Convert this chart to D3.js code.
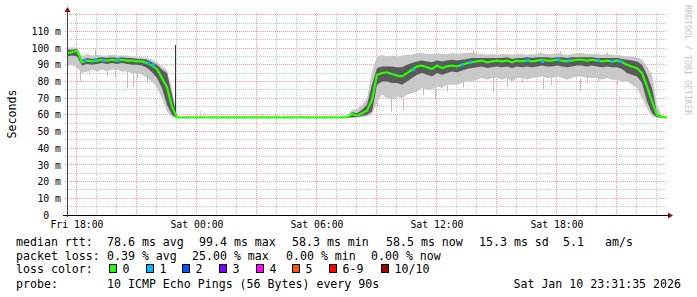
<!DOCTYPE html>
<html>
<head>
<meta charset="utf-8">
<script src="https://cdn.jsdelivr.net/npm/d3@7"></script>
<style>
  body { margin: 0; background: #fff; }
  svg { display: block; font-family: "DejaVu Sans Mono", monospace; }
  text { white-space: pre; }
</style>
</head>
<body>
<div id="chart"></div>
<script>
// one sample every 15 minutes, Fri 17:31:35 .. Sat 23:31:35
const startTime = new Date(2026, 0, 9, 17, 31, 35);
const endTime = new Date(2026, 0, 10, 23, 31, 35);
const stepMinutes = 15;

// median rtt (ms)
const median = [
  97, 97.5, 98.5, 91.5, 92.5, 92, 92.5, 93, 92.5, 93,
  92.5, 93, 92.5, 92.5, 92, 92, 91, 89.5, 87.5, 82,
  76.5, 65, 58.5, 58.4, 58.5, 58.4, 58.5, 58.5, 58.4, 58.5,
  58.4, 58.5, 58.5, 58.4, 58.5, 58.5, 58.4, 58.5, 58.4, 58.5,
  58.5, 58.4, 58.5, 58.4, 58.5, 58.5, 58.4, 58.5, 58.5, 58.4,
  58.5, 58.4, 58.5, 58.5, 58.4, 58.5, 58.6, 60.5, 59.5, 61,
  62.5, 69, 84, 85, 85.5, 84.5, 83.5, 83, 85, 87,
  89, 89.5, 88.5, 87.5, 89.5, 88, 89, 89.5, 89, 90,
  91, 91.5, 92, 92.5, 91.5, 92, 92.5, 92, 92.5, 91.5,
  92.5, 92, 92.5, 92, 92.5, 93, 92.5, 92.5, 93, 92.5,
  92, 92.5, 93, 93, 92.5, 93, 92.5, 92, 92.5, 92,
  92.5, 91.5, 90, 89, 88, 85, 77, 68, 60, 58.6,
  58.5
];

// lowest ping per sample (ms)
const pingMin = [
  89, 90, 88, 85, 86, 87, 86, 87, 86, 87,
  87, 86, 86, 85, 85, 84, 82, 80, 76, 70,
  62, 58.5, 58.2, 58.2, 58.2, 58.2, 58.2, 58.2, 58.2, 58.2,
  58.2, 58.2, 58.2, 58.2, 58.2, 58.2, 58.2, 58.2, 58.2, 58.2,
  58.2, 58.2, 58.2, 58.2, 58.2, 58.2, 58.2, 58.2, 58.2, 58.2,
  58.2, 58.2, 58.2, 58.2, 58.2, 58.2, 58.2, 58.2, 58.3, 58.5,
  59, 60, 68, 72, 70, 69, 71, 70, 72, 73,
  74, 76, 75, 75, 77, 76, 78, 78, 78, 79,
  80, 80, 81, 82, 81, 82, 82, 81, 82, 80,
  82, 82, 81, 82, 82, 83, 82, 82, 83, 82,
  81, 82, 83, 83, 82, 82, 82, 81, 82, 81,
  81, 80, 80, 78, 76, 70, 64, 59, 58.3, 58.3,
  58.3
];

// highest ping per sample (ms)
const pingMax = [
  100, 100.5, 100, 95, 96.5, 95.5, 96, 95.5, 95.5, 96,
  95.5, 95.5, 95.5, 95, 95, 94.5, 94, 93, 91.5, 89,
  87, 75, 59, 59, 59, 59, 59, 59, 59, 59,
  59, 59, 59, 59, 59, 59, 59, 59, 59, 59,
  59, 59, 59, 59, 59, 59, 59, 59, 59, 59,
  59, 59, 59, 59, 59, 59, 59, 63, 63.5, 66,
  70, 86, 95, 96, 95, 95.5, 95, 95.5, 96, 96,
  97, 97, 96.5, 96.5, 97, 96.5, 96.5, 97, 96.5, 97,
  97, 97.5, 96.5, 96.5, 96, 96.5, 96, 96.5, 96.5, 96,
  96.5, 96.5, 96, 96.5, 96.5, 97, 96.5, 96.5, 97, 96.5,
  96, 96.5, 97, 97, 96.5, 96.5, 96.5, 96, 96.5, 96,
  96, 95.5, 95, 95, 94.5, 93, 89, 84, 66, 59.5,
  59
];

// inner (dense) part of the ping spread, low side (ms)
const pingLow = [
  95, 95.5, 95, 89.5, 90.5, 90, 90.5, 91, 90.5, 91,
  90.5, 91, 90.5, 90, 90, 89.5, 88, 85.5, 82, 76,
  66, 60, 58.3, 58.3, 58.3, 58.3, 58.3, 58.3, 58.3, 58.3,
  58.3, 58.3, 58.3, 58.3, 58.3, 58.3, 58.3, 58.3, 58.3, 58.3,
  58.3, 58.3, 58.3, 58.3, 58.3, 58.3, 58.3, 58.3, 58.3, 58.3,
  58.3, 58.3, 58.3, 58.3, 58.3, 58.3, 58.3, 58.6, 58.7, 59.5,
  60, 62, 78, 80, 80, 79, 79, 78, 80, 82,
  84, 85, 84, 83, 85, 84, 85, 86, 85.5, 86.5,
  87.5, 88, 88.5, 89, 88, 88.5, 89, 88.5, 89, 88,
  89, 88.5, 89, 88.5, 89, 89.5, 89, 89, 89.5, 89,
  88.5, 89, 89.5, 89.5, 89, 89.5, 89, 88.5, 89, 88.5,
  88.5, 87.5, 85, 84, 83, 79, 68, 61, 58.5, 58.4,
  58.4
];

// inner (dense) part of the ping spread, high side (ms)
const pingHigh = [
  99, 99, 99.5, 93, 94, 93.5, 94, 94.5, 94, 94.5,
  94, 94.5, 94, 94, 93.5, 93.5, 93, 91.5, 90, 87,
  85, 72, 58.7, 58.7, 58.7, 58.7, 58.7, 58.7, 58.7, 58.7,
  58.7, 58.7, 58.7, 58.7, 58.7, 58.7, 58.7, 58.7, 58.7, 58.7,
  58.7, 58.7, 58.7, 58.7, 58.7, 58.7, 58.7, 58.7, 58.7, 58.7,
  58.7, 58.7, 58.7, 58.7, 58.7, 58.7, 58.7, 61.5, 61, 63,
  66, 78, 88, 89, 89, 89, 88.5, 88.5, 90, 91,
  92, 92.5, 92, 91.5, 92.5, 92, 92.5, 93, 92.5, 93,
  93.5, 94, 94, 94, 94, 94, 94, 94, 94.5, 93.5,
  94, 94, 94.5, 94, 94.5, 94.5, 94.5, 94, 94.5, 94.5,
  94, 94.5, 94.5, 94.5, 94.5, 94.5, 94, 94, 94, 94,
  94, 93.5, 93, 92.5, 92, 90, 84, 76, 61, 58.8,
  58.7
];

// single outlying pings: [hours after start, from ms, to ms]
const smokeSpikes = [
  [0.65, 86, 80], [1.4, 95, 99], [2.4, 87, 82.5], [3.0, 86, 76], [3.3, 86, 77],
  [3.5, 86, 82], [4.0, 84, 79], [1.1, 87, 84], [2.0, 86, 83],
  [15.5, 70, 65], [16.25, 70, 62], [16.8, 70, 63], [17.8, 76, 72], [18.4, 76, 70],
  [19.0, 78, 74], [19.8, 80, 76.5], [20.3, 96, 98.8], [21.3, 82, 73.5], [22.0, 82, 77],
  [22.75, 82, 79.5], [23.8, 82, 75.5], [24.2, 82, 78], [24.65, 96, 98], [25.65, 82, 74],
  [26.0, 82, 79], [26.55, 82, 80], [27.0, 96, 97.5], [27.5, 81, 78], [28.3, 81, 77],
  [29.3, 75, 67]
];
const flatSpikes = [
  [6.65, 58.5, 62.5], [6.85, 58.5, 61], [8.3, 58.5, 61], [9.75, 58.5, 60.5],
  [10.8, 58.5, 61.5], [11.65, 58.5, 61], [13.15, 58.5, 60.5], [13.9, 58.5, 61]
];
const maxSpike = [[5.4, 58.5, 101.8]];

// samples where 1 of 10 pings was lost: [hours after start, median ms]
const lossOne = [
  [0.9, 92.5], [1.4, 93], [1.8, 92.5], [2.55, 93], [4.05, 91], [4.3, 90],
  [17.3, 87], [19.75, 90], [20.15, 91.5], [23.0, 92.5], [23.75, 92], [24.55, 93],
  [25.05, 92.5], [26.55, 92.5], [27.25, 92], [27.65, 92]
];

const yTicks = [0, 10, 20, 30, 40, 50, 60, 70, 80, 90, 100, 110];
const lossLabels = ["0", "1", "2", "3", "4", "5", "6-9", "10/10"];
const lossColors = ["#26ff00", "#00b8ff", "#0059ff", "#7e00ff", "#ff00ff", "#ff5500", "#ff0000", "#a10000"];

const statRtt = [["median rtt:", 16], ["78.6 ms avg", 107], ["99.4 ms max", 199], ["58.3 ms min", 292],
  ["58.5 ms now", 386], ["15.3 ms sd", 479], ["5.1", 563], ["am/s", 605]];
const statLoss = [["packet loss:", 16], ["0.39 % avg", 107], ["25.00 % max", 192], ["0.00 % min", 286], ["0.00 % now", 371]];
const probeText = "10 ICMP Echo Pings (56 Bytes) every 90s";
const stampText = "Sat Jan 10 23:31:35 2026";

const width = 697, height = 297;
const margin = { top: 13, right: 30, bottom: 82, left: 67 };

const svg = d3.select("#chart").append("svg")
  .attr("width", width)
  .attr("height", height);

const x = d3.scaleTime().domain([startTime, endTime]).range([margin.left, width - margin.right]);
const y = d3.scaleLinear().domain([0, 121]).range([height - margin.bottom, margin.top]);
const times = median.map((d, i) => d3.timeMinute.offset(startTime, i * stepMinutes));
const at = h => new Date(startTime.getTime() + h * 3600e3);
const px = v => Math.floor(v) + 0.5;

const x0 = x.range()[0], x1 = x.range()[1];
const yBottom = y(0), yTop = margin.top;

// grid
const grid = svg.append("g");
const hours = d3.timeHour.range(startTime, endTime);
grid.selectAll("line.vgrid")
  .data(hours)
  .join("line")
  .attr("x1", d => px(x(d))).attr("x2", d => px(x(d)))
  .attr("y1", yTop).attr("y2", yBottom + 2)
  .attr("stroke", d => d.getHours() % 3 === 0 ? "#f09a9a" : "#c4c4c4")
  .attr("stroke-dasharray", "1,1");

const yGridVals = d3.range(5, 121, 5);
grid.selectAll("line.hgrid")
  .data(yGridVals)
  .join("line")
  .attr("x1", x0 - 2).attr("x2", x1)
  .attr("y1", d => px(y(d))).attr("y2", d => px(y(d)))
  .attr("stroke", d => d % 10 === 0 ? "#f09a9a" : "#c4c4c4")
  .attr("stroke-dasharray", "1,1");

// smoke
const band = (lo, hi) => d3.area()
  .x((d, i) => x(times[i]))
  .y0((d, i) => y(lo[i]))
  .y1((d, i) => y(hi[i]));

const smoke = svg.append("g");
smoke.append("path").datum(median).attr("d", band(pingMin, pingMax)).attr("fill", "#c8c8c8");

smoke.selectAll("line.flat")
  .data(flatSpikes)
  .join("line")
  .attr("x1", d => px(x(at(d[0])))).attr("x2", d => px(x(at(d[0]))))
  .attr("y1", d => y(d[1])).attr("y2", d => y(d[2]))
  .attr("stroke", "#d6d6d6");

smoke.selectAll("line.spike")
  .data(smokeSpikes)
  .join("line")
  .attr("x1", d => px(x(at(d[0])))).attr("x2", d => px(x(at(d[0]))))
  .attr("y1", d => y(d[1])).attr("y2", d => y(d[2]))
  .attr("stroke", "#bcbcbc");

smoke.append("path").datum(median).attr("d", band(pingLow, pingHigh)).attr("fill", "#5a5a5a");

smoke.selectAll("line.max")
  .data(maxSpike)
  .join("line")
  .attr("x1", d => px(x(at(d[0])))).attr("x2", d => px(x(at(d[0]))))
  .attr("y1", d => y(d[1])).attr("y2", d => y(d[2]))
  .attr("stroke", "#333");

// median line
const medianLine = d3.line()
  .x((d, i) => x(times[i]))
  .y(d => y(d));

svg.append("path")
  .datum(median)
  .attr("fill", "none")
  .attr("stroke", lossColors[0])
  .attr("stroke-width", 2.2)
  .attr("d", medianLine);

svg.selectAll("rect.loss")
  .data(lossOne)
  .join("rect")
  .attr("x", d => x(at(d[0])) - 1)
  .attr("y", d => y(d[1]) - 1.5)
  .attr("width", 3).attr("height", 3)
  .attr("fill", lossColors[1]);

// axes
const xAxis = d3.axisBottom(x)
  .ticks(d3.timeHour.every(6))
  .tickFormat(d3.timeFormat("%a %H:%M"))
  .tickSize(0)
  .tickPadding(6);

const xg = svg.append("g")
  .attr("transform", `translate(0, ${yBottom})`)
  .call(xAxis);
xg.select(".domain").remove();
xg.selectAll("text").attr("font-size", "9.8px").attr("font-family", "DejaVu Sans Mono").attr("fill", "#000");

const yAxis = d3.axisLeft(y)
  .tickValues(yTicks)
  .tickFormat(d => d === 0 ? "0  " : `${d} m`)
  .tickSize(0)
  .tickPadding(6);

const yg = svg.append("g")
  .attr("transform", `translate(${x0}, 0)`)
  .call(yAxis);
yg.select(".domain").remove();
yg.selectAll("text").attr("font-size", "9.8px").attr("font-family", "DejaVu Sans Mono").attr("fill", "#000");

svg.append("line")
  .attr("x1", x0 - 4).attr("x2", x1 + 2)
  .attr("y1", px(yBottom)).attr("y2", px(yBottom))
  .attr("stroke", "#000");
svg.append("line")
  .attr("x1", px(x0)).attr("x2", px(x0))
  .attr("y1", yBottom + 2).attr("y2", yTop - 3)
  .attr("stroke", "#444");

svg.append("path")
  .attr("d", `M${px(x0) - 3},${yTop - 1} L${px(x0) + 3},${yTop - 1} L${px(x0)},${yTop - 6} Z`)
  .attr("fill", "#7a1010");
svg.append("path")
  .attr("d", `M${x1 + 1},${px(yBottom) - 3} L${x1 + 1},${px(yBottom) + 3} L${x1 + 6},${px(yBottom)} Z`)
  .attr("fill", "#7a1010");

// titles
svg.append("text")
  .attr("transform", `translate(15.5, ${(yTop + yBottom) / 2}) rotate(-90)`)
  .attr("text-anchor", "middle")
  .attr("font-size", "11.6px")
  .text("Seconds");

svg.append("text")
  .attr("transform", `translate(684.5, 5) rotate(90)`)
  .attr("font-size", "8.3px")
  .attr("fill", "#c4c4c4")
  .text("RRDTOOL / TOBI OETIKER");

// legend
const legend = svg.append("g").attr("font-size", "11.6px").attr("fill", "#000");
const rowY = [245.5, 259.5, 273, 288];

legend.selectAll("text.rtt")
  .data(statRtt)
  .join("text")
  .attr("x", d => d[1]).attr("y", rowY[0])
  .text(d => d[0]);

legend.selectAll("text.loss")
  .data(statLoss)
  .join("text")
  .attr("x", d => d[1]).attr("y", rowY[1])
  .text(d => d[0]);

legend.append("text").attr("x", 16).attr("y", rowY[2]).text("loss color:");

const boxX = [109.5, 146.5, 182.5, 219.5, 256.5, 292.5, 329.5, 381.5];
const keys = legend.selectAll("g.key")
  .data(lossLabels)
  .join("g")
  .attr("transform", (d, i) => `translate(${boxX[i]}, 0)`);
keys.append("rect")
  .attr("y", 264.5).attr("width", 7).attr("height", 8)
  .attr("fill", (d, i) => lossColors[i])
  .attr("stroke", "#000");
keys.append("text")
  .attr("x", 13).attr("y", rowY[2])
  .text(d => d);

legend.append("text").attr("x", 16).attr("y", rowY[3]).text("probe:");
legend.append("text").attr("x", 107).attr("y", rowY[3]).text(probeText);
legend.append("text").attr("x", 681).attr("y", rowY[3]).attr("text-anchor", "end").text(stampText);
</script>
</body>
</html>
